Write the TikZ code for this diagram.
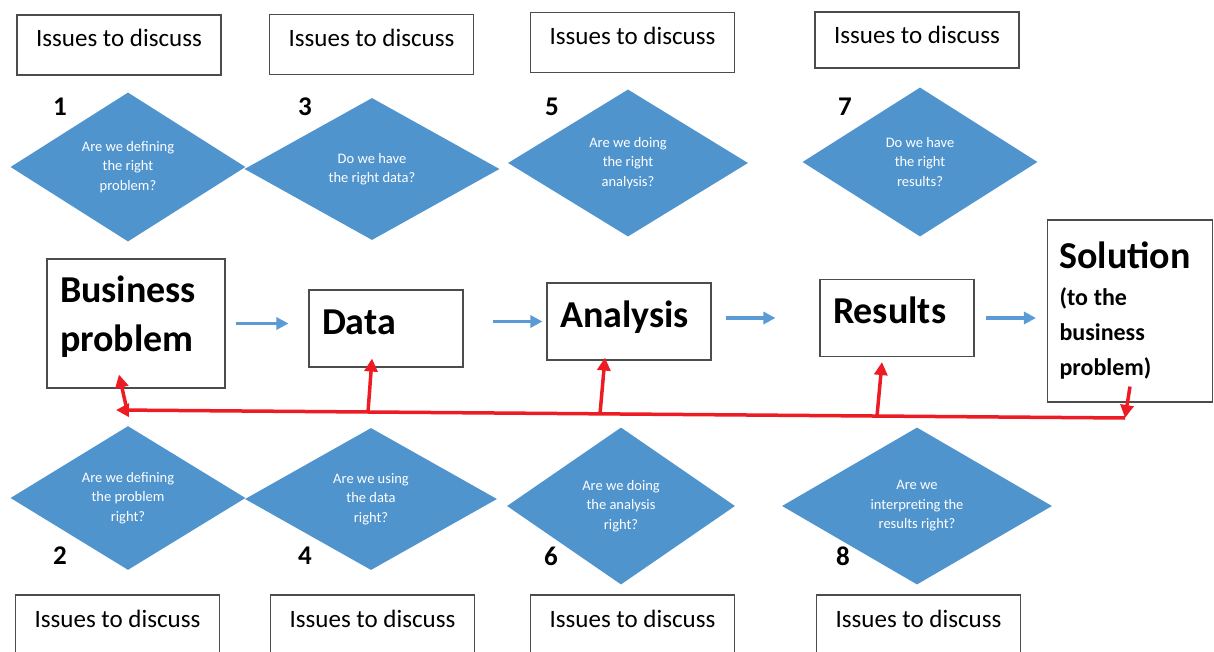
\documentclass[tikz,border=0pt]{standalone}
\usepackage{fontspec}
\setmainfont{Carlito}
\usepackage{xcolor}
\usetikzlibrary{arrows.meta,positioning,shapes.geometric,calc}

\definecolor{askblue}{RGB}{80,148,206}
\definecolor{flowblue}{RGB}{91,155,213}
\definecolor{fbred}{RGB}{237,28,36}

\newcommand{\subline}[1]{{\fontsize{24}{36}\selectfont\mbox{#1}}}

\begin{document}
\begin{tikzpicture}[
  x=1pt, y=-1pt,
  issue/.style={draw=black!70, line width=1.1pt, minimum width=204pt, inner ysep=0pt, text height=32pt, text depth=28pt, font=\fontsize{25}{30}\selectfont},
  ask/.style={diamond, fill=askblue, text=white, inner sep=0pt, align=center, font=\fontsize{14.5}{19.5}\selectfont},
  num/.style={font=\bfseries\fontsize{27}{27}\selectfont, inner sep=0pt},
  stage/.style={draw=black!70, line width=1.1pt, align=left, inner xsep=13pt, inner ysep=0pt, font=\bfseries\fontsize{38}{49}\selectfont},
  single/.style={stage, text height=44pt, text depth=33pt},
  flow/.style={draw=flowblue, line width=3.5pt, -{Triangle[length=12pt,width=12pt]}},
  fb/.style={draw=fbred, line width=3.5pt, -{Triangle[length=13pt,width=13pt]}}
]
  \path[use as bounding box, clip] (0,0) rectangle (1214,652);

  % Questions above the chain
  \node[issue] (i1) at (119,45) {Issues to discuss};
  \node[issue] (i3) at (371.5,44.5) {Issues to discuss};
  \node[issue] (i5) at (632.5,42.5) {Issues to discuss};
  \node[issue, text depth=24pt] (i7) at (917,40) {Issues to discuss};

  \node[ask, minimum width=235pt, minimum height=149pt] (q1) at (128,167) {Are we defining\\the right\\problem?};
  \node[ask, minimum width=255pt, minimum height=142pt] (q3) at (372,169) {Do we have\\the right data?};
  \node[ask, minimum width=240pt, minimum height=147pt] (q5) at (628,163) {Are we doing\\the right\\analysis?};
  \node[ask, minimum width=235pt, minimum height=149pt] (q7) at (920,162) {Do we have\\the right\\results?};

  \node[num] (n1) at (60,107) {1};
  \node[num] (n3) at (305,107) {3};
  \node[num] (n5) at (552,107) {5};
  \node[num] (n7) at (845,107) {7};

  % Main chain
  \node[stage, text width=152pt, minimum height=129pt] (biz) at (136,323.5) {Business\\problem\rule[-20pt]{0pt}{1pt}};
  \node[single, text width=128pt] (data) at (386,328.5) {Data};
  \node[single, text width=138pt] (ana) at (629,321.5) {Analysis};
  \node[single, text width=128pt] (res) at (897,318) {Results};
  \node[stage, text width=141pt, inner xsep=12pt, minimum height=182pt] (sol) at (1130,311)
    {Solution\\[-12pt]\subline{(to\hspace{0.24em}the}\\[-14pt]\subline{business}\\[-14pt]\subline{problem)}};

  \draw[flow, shorten <=10pt, shorten >=20pt] (biz.east) -- (biz.east -| data.west);
  \draw[flow, shorten <=29pt, shorten >=4pt] (data.east |- ana.west) -- (ana.west);
  \draw[flow, shorten <=14pt, shorten >=44pt] (ana.east |- res.west) -- (res.west);
  \draw[flow, shorten <=11pt, shorten >=11pt] (res.east) -- (res.east -| sol.west);

  % Feedback line
  \coordinate (busR) at (1125,418);
  \coordinate (busL) at (116,410);
  \coordinate (t1) at (127,410);
  \coordinate (t2) at (368,412);
  \coordinate (t3) at (600,414);
  \coordinate (t4) at (877,416);

  \draw[fb] ([shift={(0,-16)}]sol.south) -- (busR);
  \draw[fb] (busR) -- (busL);
  \draw[fb] (t1) -- ([shift={(-17,-14)}]biz.south);
  \draw[fb] (t2) -- ([shift={(-14,-9)}]data.south);
  \draw[fb] (t3) -- ([shift={(-24,-3)}]ana.south);
  \draw[fb] (t4) -- ([shift={(-15,5)}]res.south);

  % Questions below the chain
  \node[ask, minimum width=235pt, minimum height=143pt] (q2) at (128,498) {Are we defining\\the problem\\right?};
  \node[ask, minimum width=252pt, minimum height=142pt] (q4) at (371,499) {Are we using\\the data\\right?};
  \node[ask, minimum width=228pt, minimum height=157pt] (q6) at (621,506) {Are we doing\\the analysis\\right?};
  \node[ask, minimum width=270pt, minimum height=157pt] (q8) at (917,506) {Are we\\interpreting the\\results right?};

  \node[num] (n2) at (60,556) {2};
  \node[num] (n4) at (305,556) {4};
  \node[num] (n6) at (551,556) {6};
  \node[num] (n8) at (843,556) {8};

  \node[issue] (i2) at (117.5,625) {Issues to discuss};
  \node[issue] (i4) at (372.5,625) {Issues to discuss};
  \node[issue] (i6) at (632.5,625) {Issues to discuss};
  \node[issue] (i8) at (918.5,625) {Issues to discuss};
\end{tikzpicture}
\end{document}
